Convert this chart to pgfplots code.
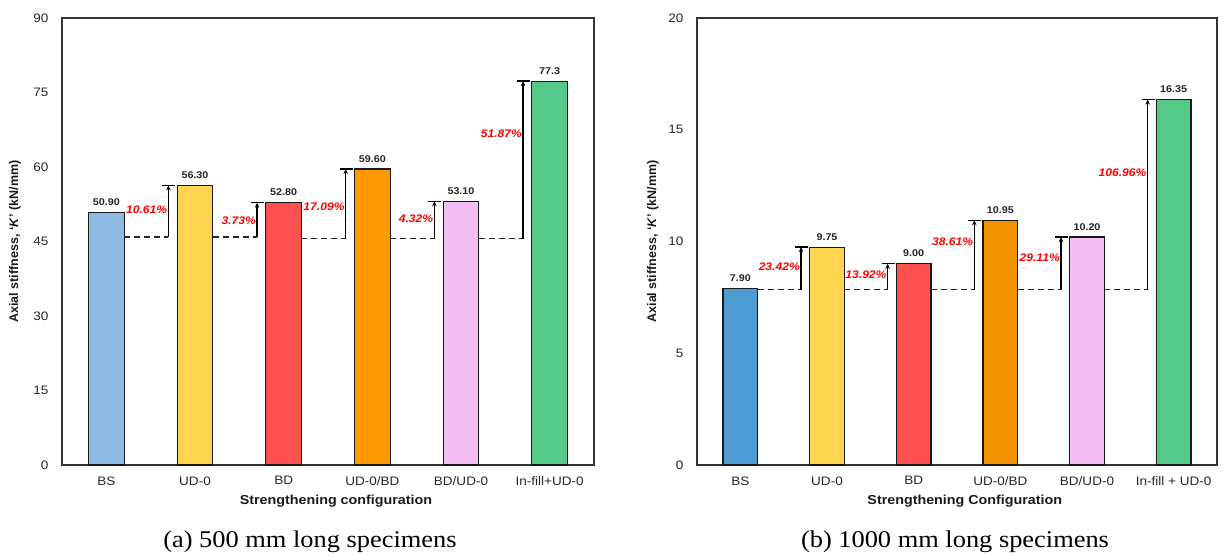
\documentclass[border=0pt]{standalone}
\usepackage{fontspec}
\setmainfont{Liberation Sans}[FakeStretch=1.1]
\newfontfamily\ylabfont{Liberation Sans}
\newfontfamily\capfont{Liberation Serif}[FakeStretch=1.1]
\usepackage{pgfplots}
\pgfplotsset{compat=1.18}
\usetikzlibrary{arrows.meta}
\definecolor{blueA}{RGB}{142,185,227}
\definecolor{blueB}{RGB}{79,155,212}
\definecolor{yel}{RGB}{255,212,80}
\definecolor{redb}{RGB}{255,80,80}
\definecolor{orgA}{RGB}{255,153,0}
\definecolor{orgB}{RGB}{243,146,0}
\definecolor{pinkb}{RGB}{243,190,243}
\definecolor{grn}{RGB}{85,201,138}
\definecolor{pct}{RGB}{255,0,0}

\pgfplotsset{
  kbar/.style={ybar, bar width=0.4, bar shift=0pt, draw=black!90, line width=1.1pt,
     nodes near coords, point meta=explicit symbolic,
     every node near coord/.append style={font=\fontsize{9.8}{11}\selectfont\bfseries, text=black!85, yshift=3pt}},
  base/.style={scale only axis, height=447pt, xmin=-0.5, xmax=5.5, ymin=0,
     xtick={0,...,5}, major tick length=0pt,
     axis line style={line width=1.2pt, black!80}, clip=false,
     tick label style={font=\fontsize{12.3}{14}\selectfont, text=black!85},
     /pgf/number format/assume math mode=true,
     yticklabel style={xshift=-10pt},
     xticklabel style={yshift=-8pt},
     xlabel style={font=\fontsize{13}{15}\selectfont\bfseries, text=black!90, at={(axis description cs:0.515,0)}, anchor=north, yshift=-27pt},
     ylabel style={font=\ylabfont\fontsize{12.5}{14}\selectfont\bfseries, text=black!90, anchor=south},
  }
}
% #1 target index, #2 base level, #3 top, #4 label y, #5 label
\newcommand{\gain}[5]{%
  \draw[black!85, line width=1.7pt, dash pattern=on 6pt off 4pt] (axis cs:#1-0.8,#2) -- (axis cs:#1-0.3,#2);
  \draw[black, line width=1.2pt, -{Stealth[length=5pt,width=4.5pt]}] (axis cs:#1-0.3,#2) -- (axis cs:#1-0.3,#3);
  \draw[black, line width=1.2pt] (axis cs:#1-0.37,#3) -- (axis cs:#1-0.22,#3);
  \node[anchor=east, inner sep=1pt, text=pct, font=\fontsize{11}{13}\selectfont\bfseries\itshape] at (axis cs:#1-0.3,#4) {#5};
}

\begin{document}
\begin{tikzpicture}
\path[use as bounding box] (0,0) rectangle (1224pt,556pt);

\begin{axis}[base, at={(62pt,91pt)}, anchor=south west, width=532pt,
  ymax=90, ytick={0,15,...,90},
  xticklabels={BS,UD-0,BD,UD-0/BD,BD/UD-0,In-fill+UD-0},
  xlabel={Strengthening configuration},
  ylabel style={at={(axis description cs:-0.071,0.5)}},
  ylabel={Axial stiffness, ‘\textit{K}’ (kN/mm)}]
\addplot[kbar, fill=blueA] coordinates {(0,50.90) [50.90]};
\addplot[kbar, fill=yel] coordinates {(1,56.30) [56.30]};
\addplot[kbar, fill=redb] coordinates {(2,52.80) [52.80]};
\addplot[kbar, fill=orgA] coordinates {(3,59.60) [59.60]};
\addplot[kbar, fill=pinkb] coordinates {(4,53.10) [53.10]};
\addplot[kbar, fill=grn] coordinates {(5,77.3) [77.3]};
\gain{1}{45.9}{56.3}{51.3}{10.61\%}
\gain{2}{45.9}{52.8}{49.1}{3.73\%}
\gain{3}{45.6}{59.6}{52.0}{17.09\%}
\gain{4}{45.6}{53.1}{49.5}{4.32\%}
\gain{5}{45.6}{77.3}{66.8}{51.87\%}
\end{axis}

\begin{axis}[base, at={(697pt,91pt)}, anchor=south west, width=520pt,
  ymax=20, ytick={0,5,...,20},
  xticklabels={BS,UD-0,BD,UD-0/BD,BD/UD-0,In-fill + UD-0},
  xlabel={Strengthening Configuration},
  ylabel style={at={(axis description cs:-0.067,0.5)}},
  ylabel={Axial stiffness, ‘\textit{K}’ (kN/mm)}]
\addplot[kbar, fill=blueB] coordinates {(0,7.90) [7.90]};
\addplot[kbar, fill=yel] coordinates {(1,9.75) [9.75]};
\addplot[kbar, fill=redb] coordinates {(2,9.00) [9.00]};
\addplot[kbar, fill=orgB] coordinates {(3,10.95) [10.95]};
\addplot[kbar, fill=pinkb] coordinates {(4,10.20) [10.20]};
\addplot[kbar, fill=grn] coordinates {(5,16.35) [16.35]};
\gain{1}{7.85}{9.75}{8.86}{23.42\%}
\gain{2}{7.85}{9.00}{8.50}{13.92\%}
\gain{3}{7.85}{10.95}{9.98}{38.61\%}
\gain{4}{7.85}{10.20}{9.26}{29.11\%}
\gain{5}{7.85}{16.35}{13.06}{106.96\%}
\end{axis}

\node[anchor=base, font=\capfont\fontsize{24}{28}\selectfont] at (310pt,8pt) {(a) 500 mm long specimens};
\node[anchor=base, font=\capfont\fontsize{24}{28}\selectfont] at (955pt,8pt) {(b) 1000 mm long specimens};
\end{tikzpicture}
\end{document}
